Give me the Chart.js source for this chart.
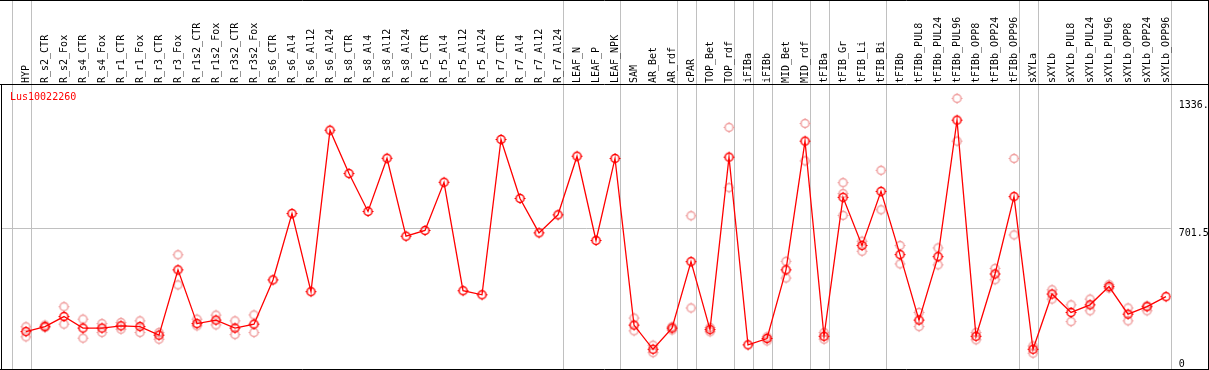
<!DOCTYPE html>
<html>
<head>
<meta charset="utf-8">
<script src="https://cdn.jsdelivr.net/npm/chart.js@4/dist/chart.umd.min.js"></script>
<style>
  html, body { margin: 0; padding: 0; background: #fff; }
  #wrap { width: 1209px; height: 370px; }
</style>
</head>
<body>
<div id="wrap"><canvas id="c" width="1209" height="370"></canvas></div>
<script>
const geneName = 'Lus10022260';

const categories = [
  'HYP','R_s2_CTR','R_s2_Fox','R_s4_CTR','R_s4_Fox','R_r1_CTR','R_r1_Fox','R_r3_CTR','R_r3_Fox',
  'R_r1s2_CTR','R_r1s2_Fox','R_r3s2_CTR','R_r3s2_Fox','R_s6_CTR','R_s6_Al4','R_s6_Al12','R_s6_Al24',
  'R_s8_CTR','R_s8_Al4','R_s8_Al12','R_s8_Al24','R_r5_CTR','R_r5_Al4','R_r5_Al12','R_r5_Al24',
  'R_r7_CTR','R_r7_Al4','R_r7_Al12','R_r7_Al24','LEAF_N','LEAF_P','LEAF_NPK','SAM','AR_Bet','AR_rdf',
  'cPAR','TOP_Bet','TOP_rdf','iFIBa','iFIBb','MID_Bet','MID_rdf','tFIBa','tFIB_Gr','tFIB_Li','tFIB_Bi',
  'tFIBb','tFIBb_PUL8','tFIBb_PUL24','tFIBb_PUL96','tFIBb_OPP8','tFIBb_OPP24','tFIBb_OPP96',
  'sXYLa','sXYLb','sXYLb_PUL8','sXYLb_PUL24','sXYLb_PUL96','sXYLb_OPP8','sXYLb_OPP24','sXYLb_OPP96'
];

const meanValues = [
  147, 174, 228, 166, 166, 178, 174, 128, 479,
  190, 209, 166, 187, 425, 782, 362, 1230,
  997, 793, 1079, 660, 691, 950, 367, 345,
  1180, 863, 678, 775, 1090, 637, 1078, 182, 52, 166,
  523, 158, 1085, 76, 110, 479, 1171, 122, 869, 610, 901,
  561, 209, 550, 1284, 122, 457, 873,
  52, 349, 250, 291, 389, 241, 281, 335
];

const replicateA = [
  173, 182, 281, 214, 190, 196, 205, 142, 560,
  214, 236, 205, 237, null, null, null, null,
  null, null, null, null, null, null, null, null,
  null, null, null, null, null, null, null, 220, 74, 173,
  770, 169, 1245, null, 119, 525, 1266, 142, 948, 633, 1014,
  610, 250, 597, 1401, 142, 487, 1078,
  70, 372, 291, 322, 399, 274, 286, null
];

const replicateB = [
  119, 169, 187, 112, 142, 160, 142, 106, 398,
  178, 183, 131, 142, null, null, null, null,
  null, null, null, null, null, null, null, null,
  null, null, null, null, null, null, null, 151, 34, 156,
  274, 146, 921, null, 97, 435, 1065, 106, 772, 579, 802,
  511, 174, 506, 1171, 103, 426, 667,
  31, 322, 201, 259, 381, 205, 259, null
];

const replicateC = [
  null, null, null, null, null, null, null, null, null,
  null, null, null, null, null, null, null, null,
  null, null, null, null, null, null, null, null,
  null, null, null, null, null, null, null, null, null, null,
  null, null, null, null, null, null, null, null, 889, null, null,
  null, null, null, null, null, null, null,
  null, null, null, null, null, null, null, null
];

const yTickValues = [0, 701.5, 1336];
const yTickLabels = ['0', '701.5', '1336.'];
const groupEnds = [-1, 0, 28, 31, 34, 35, 37, 38, 39, 41, 42, 45, 52, 53, 60];

function toPoints(arr) {
  return arr.map((v, i) => (v === null ? null : { x: i, y: v })).filter(p => p !== null);
}

function makeMarker(color) {
  const c = document.createElement('canvas');
  c.width = 13; c.height = 13;
  const g = c.getContext('2d');
  g.strokeStyle = color;
  g.lineWidth = 1.5;
  g.beginPath();
  g.arc(6.5, 6.5, 4, 0, Math.PI * 2);
  g.stroke();
  g.lineWidth = 1;
  g.beginPath();
  g.moveTo(6.5, 1); g.lineTo(6.5, 2.5);
  g.moveTo(6.5, 10.5); g.lineTo(6.5, 12);
  g.moveTo(1, 6.5); g.lineTo(2.5, 6.5);
  g.moveTo(10.5, 6.5); g.lineTo(12, 6.5);
  g.stroke();
  return c;
}

const mainColor = '#ff0000';
const repColor = '#f0a0a0';
const mainMarker = makeMarker(mainColor);
const repMarker = makeMarker(repColor);
const FONT = '10px "DejaVu Sans Mono", "Liberation Mono", monospace';

const framePlugin = {
  id: 'frame',
  beforeDatasetsDraw(chart) {
    const { ctx, chartArea, scales } = chart;
    const xs = scales.x, ys = scales.y;
    const step = xs.getPixelForValue(1) - xs.getPixelForValue(0);
    ctx.save();
    ctx.strokeStyle = '#c0c0c0';
    ctx.lineWidth = 1;
    const gy = Math.round(ys.getPixelForValue(yTickValues[1])) + 0.5;
    ctx.beginPath();
    ctx.moveTo(chartArea.left, gy);
    ctx.lineTo(chartArea.right, gy);
    ctx.stroke();
    groupEnds.forEach(i => {
      const x = Math.round(xs.getPixelForValue(i) + step * 0.24) + 0.5;
      ctx.beginPath();
      ctx.moveTo(x, 0);
      ctx.lineTo(x, chartArea.bottom);
      ctx.stroke();
    });
    ctx.restore();
  },
  afterDraw(chart) {
    const { ctx, chartArea, scales, width, height } = chart;
    const xs = scales.x, ys = scales.y;
    ctx.save();
    ctx.strokeStyle = '#000';
    ctx.lineWidth = 1;
    ctx.beginPath();
    ctx.moveTo(0, 0.5); ctx.lineTo(width, 0.5);
    ctx.moveTo(0, chartArea.top - 0.5); ctx.lineTo(width, chartArea.top - 0.5);
    ctx.moveTo(0, chartArea.bottom + 0.5); ctx.lineTo(width, chartArea.bottom + 0.5);
    ctx.moveTo(chartArea.left - 0.5, chartArea.top); ctx.lineTo(chartArea.left - 0.5, chartArea.bottom);
    ctx.moveTo(width - 0.5, 0); ctx.lineTo(width - 0.5, height);
    ctx.stroke();
    ctx.font = FONT;
    ctx.fillStyle = '#000';
    ctx.textAlign = 'left';
    ctx.textBaseline = 'middle';
    categories.forEach((lab, i) => {
      const x = xs.getPixelForValue(i);
      ctx.save();
      ctx.translate(x, chartArea.top - 2);
      ctx.rotate(-Math.PI / 2);
      ctx.fillText(lab, 0, 0);
      ctx.restore();
    });
    ctx.fillStyle = '#000';
    ctx.textAlign = 'left';
    yTickValues.forEach((v, k) => {
      const y = ys.getPixelForValue(v);
      ctx.textBaseline = (k === yTickValues.length - 1) ? 'bottom' : 'top';
      ctx.fillText(yTickLabels[k], chartArea.right + 8, y);
    });
    ctx.fillStyle = mainColor;
    ctx.textBaseline = 'middle';
    ctx.fillText(geneName, chartArea.left + 8, chartArea.top + 12);
    ctx.restore();
  }
};

new Chart(document.getElementById('c'), {
  type: 'line',
  data: {
    datasets: [
      {
        label: 'mean',
        data: toPoints(meanValues),
        borderColor: mainColor,
        borderWidth: 1.3,
        pointStyle: mainMarker,
        pointRadius: 5,
        tension: 0,
        fill: false
      },
      {
        label: 'rep A',
        data: toPoints(replicateA),
        showLine: false,
        borderColor: repColor,
        pointStyle: repMarker,
        pointRadius: 5
      },
      {
        label: 'rep B',
        data: toPoints(replicateB),
        showLine: false,
        borderColor: repColor,
        pointStyle: repMarker,
        pointRadius: 5
      },
      {
        label: 'rep C',
        data: toPoints(replicateC),
        showLine: false,
        borderColor: repColor,
        pointStyle: repMarker,
        pointRadius: 5
      }
    ]
  },
  options: {
    responsive: false,
    animation: false,
    devicePixelRatio: 1,
    layout: { autoPadding: false, padding: { left: 2, right: 38.3, top: 85, bottom: 1 } },
    plugins: { legend: { display: false }, tooltip: { enabled: false }, title: { display: false } },
    scales: {
      x: { type: 'linear', min: -1.263, max: 60.247, display: false },
      y: { type: 'linear', min: -54, max: 1473, display: false }
    }
  },
  plugins: [framePlugin]
});
</script>
</body>
</html>
